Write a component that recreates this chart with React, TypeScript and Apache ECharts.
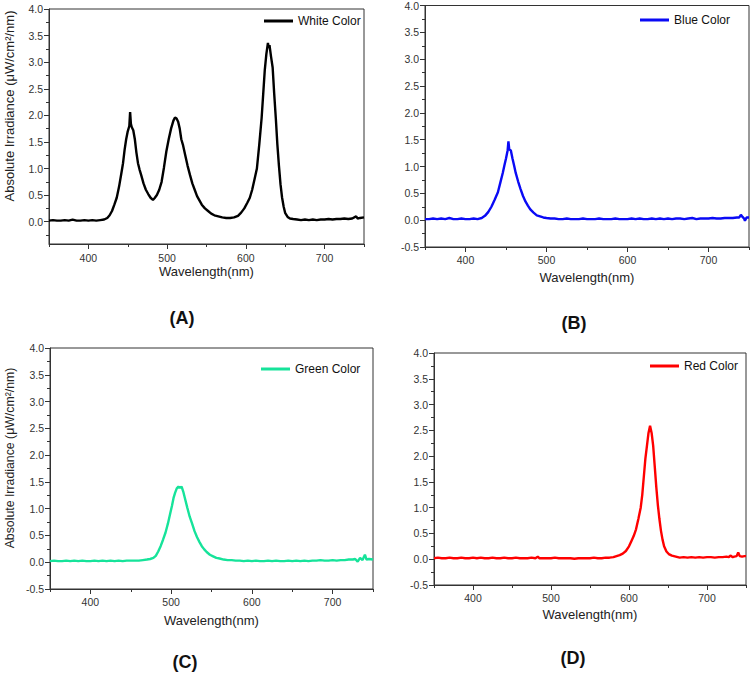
import React, { useEffect, useRef } from "react";
import * as echarts from "echarts";

// ---------- data (wavelength nm, absolute irradiance µW/cm²/nm) ----------
const whiteSpectrum: number[][] = [
  [350,0.02],[355,0.03],[360,0.02],[365,0.02],[370,0.03],[375,0.02],[380,0.04],[385,0.02],[390,0.02],[395,0.03],
  [400,0.02],[405,0.03],[410,0.02],[415,0.03],[420,0.04],[424,0.07],[427,0.12],[430,0.2],[433,0.32],[436,0.45],
  [439,0.66],[442,0.92],[444,1.1],[446,1.35],[448,1.55],[450,1.7],[452,1.8],[453,2.06],[454,1.84],[455,1.78],
  [457,1.72],[459,1.55],[461,1.3],[463,1.1],[465,0.98],[467,0.88],[470,0.72],[473,0.6],[476,0.52],[479,0.45],
  [482,0.41],[484,0.44],[487,0.5],[490,0.6],[493,0.75],[496,1.02],[499,1.32],[502,1.55],[505,1.75],[508,1.9],
  [510,1.96],[512,1.94],[514,1.88],[516,1.75],[518,1.55],[520,1.45],[523,1.25],[526,1.05],[529,0.88],[532,0.72],
  [535,0.6],[538,0.48],[541,0.4],[544,0.32],[548,0.25],[552,0.2],[556,0.15],[560,0.12],[565,0.1],[570,0.08],
  [575,0.07],[580,0.07],[585,0.08],[590,0.11],[594,0.17],[598,0.25],[602,0.36],[605,0.45],[608,0.6],[611,0.8],
  [614,1.0],[617,1.45],[620,1.95],[622,2.4],[624,2.85],[626,3.15],[628,3.36],[629,3.27],[630,3.32],[632,3.1],
  [634,2.9],[636,2.4],[638,1.95],[640,1.45],[642,1.05],[644,0.7],[646,0.45],[648,0.28],[650,0.16],[653,0.09],
  [656,0.06],[660,0.05],[665,0.04],[670,0.03],[675,0.04],[680,0.03],[685,0.04],[690,0.03],[695,0.04],[700,0.04],
  [705,0.05],[710,0.04],[715,0.05],[720,0.05],[725,0.06],[730,0.05],[735,0.06],[740,0.1],[742,0.06],[745,0.07],[750,0.08],
];

const blueSpectrum: number[][] = [
  [350,0.02],[355,0.02],[360,0.03],[365,0.02],[370,0.03],[375,0.02],[380,0.04],[385,0.02],[390,0.02],[395,0.03],
  [400,0.02],[405,0.02],[410,0.03],[415,0.02],[420,0.04],[424,0.08],[428,0.15],[432,0.25],[436,0.38],[440,0.52],
  [443,0.7],[446,0.88],[448,1.02],[450,1.15],[452,1.3],[453,1.47],[454,1.32],[456,1.3],[458,1.15],[460,1.02],
  [462,0.88],[465,0.72],[468,0.58],[471,0.45],[474,0.35],[477,0.27],[480,0.2],[484,0.14],[488,0.09],[492,0.07],
  [496,0.05],[500,0.04],[505,0.03],[510,0.03],[515,0.02],[520,0.02],[525,0.03],[530,0.02],[535,0.02],[540,0.02],
  [545,0.03],[550,0.02],[555,0.02],[560,0.02],[565,0.03],[570,0.02],[575,0.02],[580,0.02],[585,0.03],[590,0.02],
  [595,0.02],[600,0.02],[605,0.03],[610,0.02],[615,0.03],[620,0.02],[625,0.02],[630,0.03],[635,0.02],[640,0.03],
  [645,0.02],[650,0.03],[655,0.02],[660,0.03],[665,0.03],[670,0.02],[675,0.03],[680,0.04],[685,0.02],[690,0.03],
  [695,0.03],[700,0.03],[705,0.04],[710,0.03],[715,0.03],[720,0.04],[725,0.04],[730,0.04],[735,0.05],[738,0.05],
  [740,0.1],[742,0.06],[744,0.03],[745,-0.01],[747,0.05],[750,0.05],
];

const greenSpectrum: number[][] = [
  [350,0.02],[355,0.03],[360,0.02],[365,0.02],[370,0.03],[375,0.02],[380,0.03],[385,0.02],[390,0.03],[395,0.02],
  [400,0.02],[405,0.03],[410,0.02],[415,0.03],[420,0.02],[425,0.03],[430,0.02],[435,0.03],[440,0.02],[445,0.03],
  [450,0.03],[455,0.03],[460,0.03],[465,0.04],[470,0.05],[474,0.06],[478,0.08],[481,0.12],[484,0.2],[487,0.3],
  [490,0.42],[493,0.55],[496,0.72],[499,0.92],[501,1.05],[503,1.2],[505,1.3],[507,1.38],[509,1.41],[511,1.39],
  [513,1.41],[515,1.32],[517,1.2],[520,1.02],[523,0.85],[526,0.72],[529,0.58],[532,0.47],[535,0.38],[538,0.3],
  [541,0.24],[544,0.19],[548,0.14],[552,0.11],[556,0.08],[560,0.07],[565,0.05],[570,0.04],[575,0.04],[580,0.03],
  [585,0.03],[590,0.02],[595,0.03],[600,0.02],[605,0.03],[610,0.02],[615,0.02],[620,0.03],[625,0.02],[630,0.03],
  [635,0.02],[640,0.02],[645,0.03],[650,0.02],[655,0.03],[660,0.02],[665,0.03],[670,0.02],[675,0.03],[680,0.03],
  [685,0.04],[690,0.03],[695,0.03],[700,0.04],[705,0.03],[710,0.04],[715,0.04],[720,0.05],[725,0.05],[728,0.06],
  [731,0.01],[734,0.08],[737,0.04],[740,0.14],[742,0.05],[745,0.06],[750,0.05],
];

const redSpectrum: number[][] = [
  [350,0.02],[355,0.03],[360,0.02],[365,0.02],[370,0.03],[375,0.02],[380,0.02],[385,0.03],[390,0.02],[395,0.02],
  [400,0.03],[405,0.02],[410,0.03],[415,0.02],[420,0.02],[425,0.03],[430,0.02],[435,0.02],[440,0.03],[445,0.02],
  [450,0.02],[455,0.03],[460,0.02],[465,0.02],[470,0.02],[475,0.03],[480,0.02],[483,0.05],[485,0.02],[490,0.02],
  [495,0.02],[500,0.02],[505,0.03],[510,0.02],[515,0.02],[520,0.02],[525,0.02],[530,0.01],[535,0.02],[540,0.02],
  [545,0.02],[550,0.02],[555,0.03],[560,0.02],[565,0.02],[570,0.03],[575,0.03],[580,0.04],[584,0.06],[588,0.08],
  [592,0.11],[596,0.16],[600,0.25],[603,0.35],[606,0.45],[609,0.58],[612,0.78],[615,1.0],[617,1.25],[619,1.6],
  [621,1.95],[623,2.2],[625,2.45],[627,2.59],[629,2.45],[631,2.2],[633,1.8],[635,1.4],[637,1.05],[639,0.78],
  [641,0.55],[643,0.38],[645,0.25],[648,0.15],[651,0.1],[655,0.07],[660,0.05],[665,0.03],[670,0.04],[675,0.03],
  [680,0.04],[685,0.03],[690,0.04],[695,0.03],[700,0.04],[705,0.04],[710,0.03],[715,0.04],[720,0.04],[725,0.05],
  [728,0.04],[730,0.07],[733,0.04],[735,0.05],[738,0.06],[740,0.13],[742,0.06],[745,0.05],[748,0.06],[750,0.06],
];

const seriesNames = ["White Color", "Blue Color", "Green Color", "Red Color"];
const panelTags = ["(A)", "(B)", "(C)", "(D)"];
const xMajorTicks = [400, 500, 600, 700];
const xMinorTicks = [350, 450, 550, 650, 750];
const yLabelsFull = [-0.5, 0, 0.5, 1, 1.5, 2, 2.5, 3, 3.5, 4];
const yLabelsNoNeg = [0, 0.5, 1, 1.5, 2, 2.5, 3, 3.5, 4];
const yMinorTicks = [-0.25, 0.25, 0.75, 1.25, 1.75, 2.25, 2.75, 3.25, 3.75];
const yAxisTitle = "Absolute Irradiance (\u03bcW/cm\u00b2/nm)";
const xAxisTitle = "Wavelength(nm)";

const FONT = "'Liberation Sans', Arial, sans-serif";
const AXIS_COLOR = "#333";
const LABEL_COLOR = "#333";

const panels = [
  { data: whiteSpectrum, color: "#000000", grid: { left: 49, top: 9, width: 315, height: 235 }, yMin: -0.42, yLabels: yLabelsNoNeg, legend: { left: 264, top: 15 }, xMargin: 8, xGap: 21, tag: { x: 182, y: 318 } },
  { data: blueSpectrum, color: "#0a0af5", grid: { left: 425, top: 5, width: 324, height: 242 }, yMin: -0.5, yLabels: yLabelsFull, legend: { left: 640, top: 14 }, xMargin: 7, xGap: 24, tag: { x: 574, y: 323 } },
  { data: greenSpectrum, color: "#16e39a", grid: { left: 50, top: 348, width: 323, height: 241 }, yMin: -0.5, yLabels: yLabelsFull, legend: { left: 261, top: 363 }, xMargin: 7, xGap: 25, tag: { x: 185, y: 662 } },
  { data: redSpectrum, color: "#ff0000", grid: { left: 434, top: 353, width: 312, height: 232 }, yMin: -0.5, yLabels: yLabelsFull, legend: { left: 650, top: 360 }, xMargin: 7, xGap: 23, tag: { x: 573, y: 658 } },
];

export default function App() {
  const ref = useRef<HTMLDivElement>(null);

  useEffect(() => {
    document.body.style.margin = "0";
    if (!ref.current) return;
    const chart = echarts.init(ref.current, null, { renderer: "svg" });

    const grids: any[] = [];
    const xAxes: any[] = [];
    const yAxes: any[] = [];
    const series: any[] = [];
    const legends: any[] = [];
    const graphics: any[] = [];

    panels.forEach((p, i) => {
      grids.push({ ...p.grid, show: true, borderColor: AXIS_COLOR, borderWidth: 1, backgroundColor: "transparent", containLabel: false });
      const xMainIdx = xAxes.length;
      xAxes.push({
        type: "value", gridIndex: i, min: 350, max: 750, position: "bottom",
        name: xAxisTitle, nameLocation: "middle", nameGap: p.xGap,
        nameTextStyle: { fontFamily: FONT, fontSize: 13, color: "#222" },
        axisLine: { show: true, onZero: false, lineStyle: { color: AXIS_COLOR, width: 1 } },
        axisTick: { show: true, inside: false, length: 5, customValues: xMajorTicks, lineStyle: { color: AXIS_COLOR } },
        axisLabel: { show: true, margin: p.xMargin, customValues: xMajorTicks, fontFamily: FONT, fontSize: 10.5, color: LABEL_COLOR },
        splitLine: { show: false },
      });
      xAxes.push({
        type: "value", gridIndex: i, min: 350, max: 750, position: "bottom",
        axisLine: { show: false, onZero: false },
        axisTick: { show: true, inside: false, length: 3, customValues: xMinorTicks, lineStyle: { color: AXIS_COLOR } },
        axisLabel: { show: false },
        splitLine: { show: false },
      });
      const yMainIdx = yAxes.length;
      yAxes.push({
        type: "value", gridIndex: i, min: p.yMin, max: 4, position: "left",
        axisLine: { show: true, onZero: false, lineStyle: { color: AXIS_COLOR, width: 1 } },
        axisTick: { show: true, inside: false, length: 5, customValues: p.yLabels, lineStyle: { color: AXIS_COLOR } },
        axisLabel: { show: true, margin: 6, customValues: p.yLabels, formatter: (v: number) => v.toFixed(1), fontFamily: FONT, fontSize: 10.5, color: LABEL_COLOR },
        splitLine: { show: false },
      });
      yAxes.push({
        type: "value", gridIndex: i, min: p.yMin, max: 4, position: "left",
        axisLine: { show: false, onZero: false },
        axisTick: { show: true, inside: false, length: 3, customValues: yMinorTicks, lineStyle: { color: AXIS_COLOR } },
        axisLabel: { show: false },
        splitLine: { show: false },
      });
      series.push({
        name: seriesNames[i], type: "line", xAxisIndex: xMainIdx, yAxisIndex: yMainIdx,
        data: p.data, showSymbol: false, symbol: "none", smooth: false,
        lineStyle: { color: p.color, width: 2.4 }, itemStyle: { color: p.color },
      });
      legends.push({
        data: [seriesNames[i]], left: p.legend.left, top: p.legend.top, padding: 0, selectedMode: false,
        icon: "rect", itemWidth: 29, itemHeight: 3, itemGap: 0,
        textStyle: { fontFamily: FONT, fontSize: 12, color: "#111" },
      });
      graphics.push({
        type: "text", x: p.tag.x, y: p.tag.y,
        style: { text: panelTags[i], fontFamily: FONT, fontSize: 18, fontWeight: "bold", fill: "#111", textAlign: "center", textVerticalAlign: "middle" },
      });
    });

    graphics.push({
      type: "text", x: 9, y: 106, rotation: Math.PI / 2,
      style: { text: yAxisTitle, fontFamily: FONT, fontSize: 13, fill: "#222", textAlign: "center", textVerticalAlign: "middle" },
    });
    graphics.push({
      type: "text", x: 10, y: 458, rotation: Math.PI / 2,
      style: { text: yAxisTitle, fontFamily: FONT, fontSize: 12.3, fill: "#222", textAlign: "center", textVerticalAlign: "middle" },
    });

    chart.setOption({
      animation: false,
      backgroundColor: "#ffffff",
      grid: grids,
      xAxis: xAxes,
      yAxis: yAxes,
      series,
      legend: legends,
      graphic: graphics,
    });

    return () => chart.dispose();
  }, []);

  return <div ref={ref} style={{ width: 750, height: 673 }} />;
}
